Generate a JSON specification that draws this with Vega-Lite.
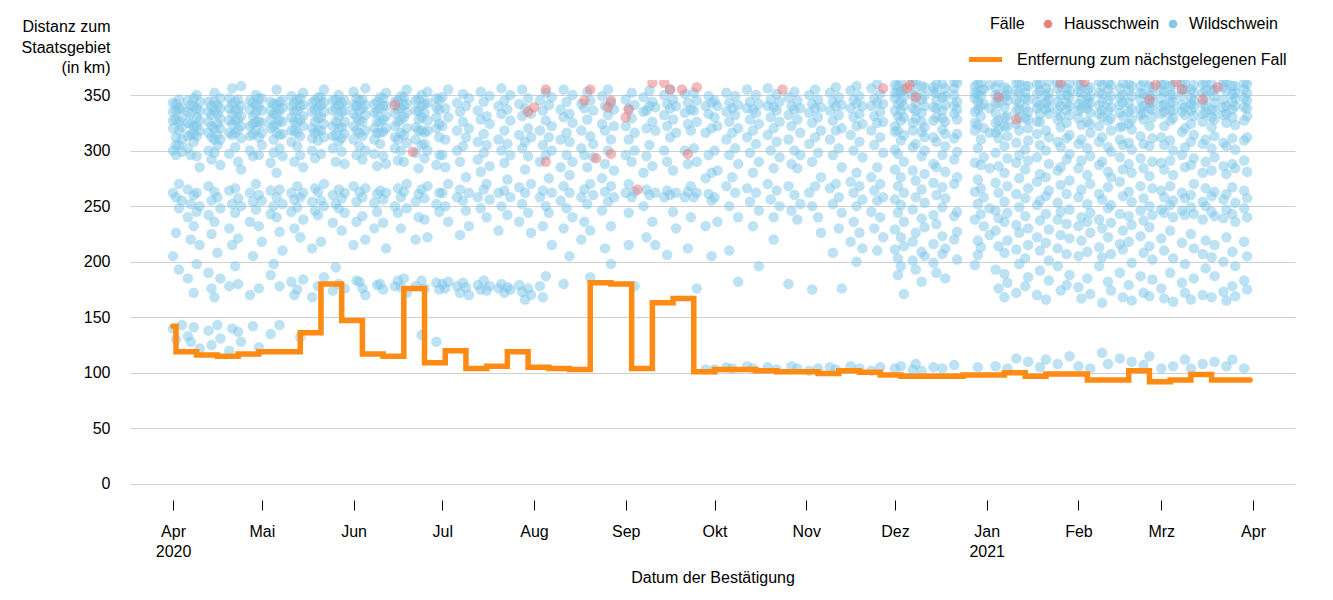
{
"$schema":"https://vega.github.io/schema/vega-lite/v6.json",
"width":1165,"height":420,
"autosize":{"type":"none"},
"padding":{"left":130,"top":80,"right":38,"bottom":100},
"background":"white",
"config":{"font":"Liberation Sans","view":{"stroke":null},
"axis":{"labelFontSize":16,"titleFontSize":16,"labelColor":"#000","titleColor":"#000","titleFontWeight":"normal"},
"legend":{"labelFontSize":16,"titleFontSize":16,"titleFontWeight":"normal","labelColor":"#000","titleColor":"#000"}},
"datasets":{
"A":[{"d":"2020-04-01","e":"2021-04-01"}],
"L":[{"d":"2020-04-01","v":142},{"d":"2020-04-02","v":119},{"d":"2020-04-09","v":116},{"d":"2020-04-16","v":115},{"d":"2020-04-23","v":117},{"d":"2020-04-30","v":119},{"d":"2020-05-07","v":119},{"d":"2020-05-14","v":136},{"d":"2020-05-21","v":180},{"d":"2020-05-28","v":147},{"d":"2020-06-04","v":117},{"d":"2020-06-11","v":115},{"d":"2020-06-18","v":176},{"d":"2020-06-25","v":109},{"d":"2020-07-02","v":120},{"d":"2020-07-09","v":104},{"d":"2020-07-16","v":106},{"d":"2020-07-23","v":119},{"d":"2020-07-30","v":105},{"d":"2020-08-06","v":104},{"d":"2020-08-13","v":103},{"d":"2020-08-20","v":181},{"d":"2020-08-27","v":180},{"d":"2020-09-03","v":104},{"d":"2020-09-10","v":163},{"d":"2020-09-17","v":167},{"d":"2020-09-24","v":101},{"d":"2020-10-01","v":103},{"d":"2020-10-08","v":103},{"d":"2020-10-15","v":102},{"d":"2020-10-22","v":101},{"d":"2020-10-29","v":101},{"d":"2020-11-05","v":99.5},{"d":"2020-11-12","v":102},{"d":"2020-11-19","v":100.5},{"d":"2020-11-26","v":98},{"d":"2020-12-03","v":97},{"d":"2020-12-10","v":97},{"d":"2020-12-17","v":97},{"d":"2020-12-24","v":98},{"d":"2020-12-31","v":98},{"d":"2021-01-07","v":100},{"d":"2021-01-14","v":97},{"d":"2021-01-21","v":99},{"d":"2021-01-28","v":99},{"d":"2021-02-04","v":93.5},{"d":"2021-02-11","v":93.5},{"d":"2021-02-18","v":102},{"d":"2021-02-25","v":92},{"d":"2021-03-04","v":93.5},{"d":"2021-03-11","v":98.5},{"d":"2021-03-18","v":93.5},{"d":"2021-03-25","v":93.5},{"d":"2021-03-31","v":93.5}],
"H":[{"d":"2020-06-15","v":341},{"d":"2020-06-21","v":299},{"d":"2020-07-30","v":335},{"d":"2020-08-01","v":339},{"d":"2020-08-05","v":355},{"d":"2020-08-05","v":290},{"d":"2020-08-18","v":345},{"d":"2020-08-20","v":355},{"d":"2020-08-22","v":293},{"d":"2020-08-26","v":339},{"d":"2020-08-27","v":345},{"d":"2020-08-27","v":297},{"d":"2020-09-01","v":330},{"d":"2020-09-02","v":337},{"d":"2020-09-05","v":265},{"d":"2020-09-10","v":361},{"d":"2020-09-14","v":361},{"d":"2020-09-16","v":355},{"d":"2020-09-20","v":355},{"d":"2020-09-22","v":297},{"d":"2020-09-25","v":357},{"d":"2020-10-24","v":355},{"d":"2020-11-27","v":356},{"d":"2020-12-05","v":356},{"d":"2020-12-06","v":359},{"d":"2020-12-08","v":348},{"d":"2021-01-05","v":348},{"d":"2021-01-11","v":328},{"d":"2021-01-26","v":361},{"d":"2021-02-03","v":362},{"d":"2021-02-25","v":346},{"d":"2021-02-27","v":359},{"d":"2021-03-06","v":362},{"d":"2021-03-08","v":355},{"d":"2021-03-15","v":346},{"d":"2021-03-20","v":357}],
"W":[
{"d":"2020-04-01","v":335},{"d":"2020-04-01","v":320},{"d":"2020-04-01","v":300},{"d":"2020-04-01","v":262},{"d":"2020-04-01","v":205},{"d":"2020-04-01","v":140},
{"d":"2020-04-02","v":342},{"d":"2020-04-02","v":328},{"d":"2020-04-02","v":312},{"d":"2020-04-02","v":296},{"d":"2020-04-02","v":258},{"d":"2020-04-02","v":226},{"d":"2020-04-02","v":130},
{"d":"2020-04-03","v":338},{"d":"2020-04-03","v":318},{"d":"2020-04-03","v":305},{"d":"2020-04-03","v":270},{"d":"2020-04-03","v":248},{"d":"2020-04-03","v":193},
{"d":"2020-04-04","v":330},{"d":"2020-04-04","v":310},{"d":"2020-04-04","v":299},{"d":"2020-04-04","v":255},{"d":"2020-04-04","v":143},
{"d":"2020-04-06","v":345},{"d":"2020-04-06","v":325},{"d":"2020-04-06","v":302},{"d":"2020-04-06","v":265},{"d":"2020-04-06","v":240},{"d":"2020-04-06","v":185},{"d":"2020-04-06","v":133},
{"d":"2020-04-07","v":333},{"d":"2020-04-07","v":315},{"d":"2020-04-07","v":296},{"d":"2020-04-07","v":252},{"d":"2020-04-07","v":220},{"d":"2020-04-07","v":128},
{"d":"2020-04-08","v":340},{"d":"2020-04-08","v":322},{"d":"2020-04-08","v":308},{"d":"2020-04-08","v":260},{"d":"2020-04-08","v":232},{"d":"2020-04-08","v":172},{"d":"2020-04-08","v":141},
{"d":"2020-04-09","v":350},{"d":"2020-04-09","v":330},{"d":"2020-04-09","v":313},{"d":"2020-04-09","v":295},{"d":"2020-04-09","v":262},{"d":"2020-04-09","v":245},{"d":"2020-04-09","v":198},
{"d":"2020-04-10","v":336},{"d":"2020-04-10","v":318},{"d":"2020-04-10","v":285},{"d":"2020-04-10","v":250},{"d":"2020-04-10","v":215},{"d":"2020-04-10","v":122},
{"d":"2020-04-13","v":344},{"d":"2020-04-13","v":326},{"d":"2020-04-13","v":300},{"d":"2020-04-13","v":268},{"d":"2020-04-13","v":242},{"d":"2020-04-13","v":190},{"d":"2020-04-13","v":138},
{"d":"2020-04-14","v":332},{"d":"2020-04-14","v":312},{"d":"2020-04-14","v":292},{"d":"2020-04-14","v":255},{"d":"2020-04-14","v":225},{"d":"2020-04-14","v":176},{"d":"2020-04-14","v":125},
{"d":"2020-04-15","v":352},{"d":"2020-04-15","v":336},{"d":"2020-04-15","v":320},{"d":"2020-04-15","v":298},{"d":"2020-04-15","v":263},{"d":"2020-04-15","v":236},{"d":"2020-04-15","v":168},
{"d":"2020-04-16","v":341},{"d":"2020-04-16","v":324},{"d":"2020-04-16","v":305},{"d":"2020-04-16","v":258},{"d":"2020-04-16","v":208},{"d":"2020-04-16","v":143},
{"d":"2020-04-17","v":347},{"d":"2020-04-17","v":329},{"d":"2020-04-17","v":310},{"d":"2020-04-17","v":287},{"d":"2020-04-17","v":248},{"d":"2020-04-17","v":185},{"d":"2020-04-17","v":131},
{"d":"2020-04-20","v":338},{"d":"2020-04-20","v":316},{"d":"2020-04-20","v":297},{"d":"2020-04-20","v":264},{"d":"2020-04-20","v":230},{"d":"2020-04-20","v":178},{"d":"2020-04-20","v":120},
{"d":"2020-04-21","v":356},{"d":"2020-04-21","v":333},{"d":"2020-04-21","v":314},{"d":"2020-04-21","v":252},{"d":"2020-04-21","v":215},{"d":"2020-04-21","v":140},
{"d":"2020-04-22","v":344},{"d":"2020-04-22","v":327},{"d":"2020-04-22","v":303},{"d":"2020-04-22","v":266},{"d":"2020-04-22","v":244},{"d":"2020-04-22","v":196},
{"d":"2020-04-23","v":336},{"d":"2020-04-23","v":319},{"d":"2020-04-23","v":290},{"d":"2020-04-23","v":257},{"d":"2020-04-23","v":221},{"d":"2020-04-23","v":180},{"d":"2020-04-23","v":137},
{"d":"2020-04-24","v":358},{"d":"2020-04-24","v":340},{"d":"2020-04-24","v":311},{"d":"2020-04-24","v":283},{"d":"2020-04-24","v":250},{"d":"2020-04-24","v":128},
{"d":"2020-04-27","v":345},{"d":"2020-04-27","v":322},{"d":"2020-04-27","v":300},{"d":"2020-04-27","v":262},{"d":"2020-04-27","v":236},{"d":"2020-04-27","v":170},
{"d":"2020-04-28","v":331},{"d":"2020-04-28","v":315},{"d":"2020-04-28","v":295},{"d":"2020-04-28","v":254},{"d":"2020-04-28","v":205},{"d":"2020-04-28","v":142},
{"d":"2020-04-29","v":350},{"d":"2020-04-29","v":334},{"d":"2020-04-29","v":318},{"d":"2020-04-29","v":270},{"d":"2020-04-29","v":247},
{"d":"2020-04-30","v":339},{"d":"2020-04-30","v":312},{"d":"2020-04-30","v":296},{"d":"2020-04-30","v":260},{"d":"2020-04-30","v":232},{"d":"2020-04-30","v":176},{"d":"2020-04-30","v":123},
{"d":"2020-05-01","v":347},{"d":"2020-05-01","v":325},{"d":"2020-05-01","v":305},{"d":"2020-05-01","v":255},{"d":"2020-05-01","v":218},
{"d":"2020-05-04","v":336},{"d":"2020-05-04","v":320},{"d":"2020-05-04","v":289},{"d":"2020-05-04","v":264},{"d":"2020-05-04","v":243},{"d":"2020-05-04","v":188},{"d":"2020-05-04","v":135},
{"d":"2020-05-05","v":342},{"d":"2020-05-05","v":310},{"d":"2020-05-05","v":298},{"d":"2020-05-05","v":250},{"d":"2020-05-05","v":198},
{"d":"2020-05-06","v":355},{"d":"2020-05-06","v":333},{"d":"2020-05-06","v":316},{"d":"2020-05-06","v":280},{"d":"2020-05-06","v":258},{"d":"2020-05-06","v":240},
{"d":"2020-05-07","v":344},{"d":"2020-05-07","v":327},{"d":"2020-05-07","v":302},{"d":"2020-05-07","v":265},{"d":"2020-05-07","v":227},{"d":"2020-05-07","v":178},{"d":"2020-05-07","v":143},
{"d":"2020-05-08","v":338},{"d":"2020-05-08","v":315},{"d":"2020-05-08","v":295},{"d":"2020-05-08","v":252},{"d":"2020-05-08","v":210},
{"d":"2020-05-11","v":349},{"d":"2020-05-11","v":330},{"d":"2020-05-11","v":308},{"d":"2020-05-11","v":262},{"d":"2020-05-11","v":245},{"d":"2020-05-11","v":182},
{"d":"2020-05-12","v":335},{"d":"2020-05-12","v":318},{"d":"2020-05-12","v":290},{"d":"2020-05-12","v":256},{"d":"2020-05-12","v":230},{"d":"2020-05-12","v":170},
{"d":"2020-05-13","v":346},{"d":"2020-05-13","v":325},{"d":"2020-05-13","v":304},{"d":"2020-05-13","v":268},{"d":"2020-05-13","v":249},{"d":"2020-05-13","v":175},
{"d":"2020-05-14","v":340},{"d":"2020-05-14","v":313},{"d":"2020-05-14","v":296},{"d":"2020-05-14","v":258},{"d":"2020-05-14","v":222},{"d":"2020-05-14","v":132},
{"d":"2020-05-15","v":352},{"d":"2020-05-15","v":331},{"d":"2020-05-15","v":285},{"d":"2020-05-15","v":262},{"d":"2020-05-15","v":238},{"d":"2020-05-15","v":184},
{"d":"2020-05-18","v":343},{"d":"2020-05-18","v":320},{"d":"2020-05-18","v":300},{"d":"2020-05-18","v":254},{"d":"2020-05-18","v":212},{"d":"2020-05-18","v":168},
{"d":"2020-05-19","v":337},{"d":"2020-05-19","v":316},{"d":"2020-05-19","v":293},{"d":"2020-05-19","v":266},{"d":"2020-05-19","v":246},
{"d":"2020-05-20","v":348},{"d":"2020-05-20","v":329},{"d":"2020-05-20","v":309},{"d":"2020-05-20","v":263},{"d":"2020-05-20","v":242},{"d":"2020-05-20","v":178},
{"d":"2020-05-21","v":341},{"d":"2020-05-21","v":318},{"d":"2020-05-21","v":297},{"d":"2020-05-21","v":255},{"d":"2020-05-21","v":218},
{"d":"2020-05-22","v":355},{"d":"2020-05-22","v":335},{"d":"2020-05-22","v":312},{"d":"2020-05-22","v":270},{"d":"2020-05-22","v":250},{"d":"2020-05-22","v":186},
{"d":"2020-05-25","v":345},{"d":"2020-05-25","v":322},{"d":"2020-05-25","v":302},{"d":"2020-05-25","v":260},{"d":"2020-05-25","v":235},{"d":"2020-05-25","v":174},
{"d":"2020-05-26","v":338},{"d":"2020-05-26","v":314},{"d":"2020-05-26","v":290},{"d":"2020-05-26","v":252},{"d":"2020-05-26","v":195},
{"d":"2020-05-27","v":350},{"d":"2020-05-27","v":330},{"d":"2020-05-27","v":308},{"d":"2020-05-27","v":265},{"d":"2020-05-27","v":248},{"d":"2020-05-27","v":180},
{"d":"2020-05-28","v":343},{"d":"2020-05-28","v":321},{"d":"2020-05-28","v":299},{"d":"2020-05-28","v":257},{"d":"2020-05-28","v":228},
{"d":"2020-05-29","v":336},{"d":"2020-05-29","v":315},{"d":"2020-05-29","v":288},{"d":"2020-05-29","v":262},{"d":"2020-05-29","v":244},{"d":"2020-05-29","v":176},
{"d":"2020-06-01","v":353},{"d":"2020-06-01","v":333},{"d":"2020-06-01","v":310},{"d":"2020-06-01","v":268},{"d":"2020-06-01","v":215},
{"d":"2020-06-02","v":340},{"d":"2020-06-02","v":318},{"d":"2020-06-02","v":296},{"d":"2020-06-02","v":254},{"d":"2020-06-02","v":236},{"d":"2020-06-02","v":183},
{"d":"2020-06-03","v":345},{"d":"2020-06-03","v":327},{"d":"2020-06-03","v":304},{"d":"2020-06-03","v":263},{"d":"2020-06-03","v":182},
{"d":"2020-06-04","v":338},{"d":"2020-06-04","v":313},{"d":"2020-06-04","v":292},{"d":"2020-06-04","v":258},{"d":"2020-06-04","v":241},{"d":"2020-06-04","v":176},
{"d":"2020-06-05","v":356},{"d":"2020-06-05","v":332},{"d":"2020-06-05","v":300},{"d":"2020-06-05","v":266},{"d":"2020-06-05","v":220},{"d":"2020-06-05","v":170},
{"d":"2020-06-08","v":342},{"d":"2020-06-08","v":320},{"d":"2020-06-08","v":297},{"d":"2020-06-08","v":253},{"d":"2020-06-08","v":230},
{"d":"2020-06-09","v":335},{"d":"2020-06-09","v":316},{"d":"2020-06-09","v":286},{"d":"2020-06-09","v":261},{"d":"2020-06-09","v":245},{"d":"2020-06-09","v":179},
{"d":"2020-06-10","v":348},{"d":"2020-06-10","v":326},{"d":"2020-06-10","v":306},{"d":"2020-06-10","v":264},{"d":"2020-06-10","v":180},
{"d":"2020-06-11","v":340},{"d":"2020-06-11","v":317},{"d":"2020-06-11","v":295},{"d":"2020-06-11","v":256},{"d":"2020-06-11","v":235},{"d":"2020-06-11","v":175},
{"d":"2020-06-12","v":352},{"d":"2020-06-12","v":331},{"d":"2020-06-12","v":288},{"d":"2020-06-12","v":262},{"d":"2020-06-12","v":212},
{"d":"2020-06-15","v":344},{"d":"2020-06-15","v":322},{"d":"2020-06-15","v":302},{"d":"2020-06-15","v":250},{"d":"2020-06-15","v":178},
{"d":"2020-06-16","v":337},{"d":"2020-06-16","v":310},{"d":"2020-06-16","v":291},{"d":"2020-06-16","v":266},{"d":"2020-06-16","v":244},{"d":"2020-06-16","v":183},
{"d":"2020-06-17","v":349},{"d":"2020-06-17","v":328},{"d":"2020-06-17","v":300},{"d":"2020-06-17","v":258},{"d":"2020-06-17","v":230},{"d":"2020-06-17","v":177},
{"d":"2020-06-18","v":341},{"d":"2020-06-18","v":314},{"d":"2020-06-18","v":290},{"d":"2020-06-18","v":263},{"d":"2020-06-18","v":185},
{"d":"2020-06-19","v":355},{"d":"2020-06-19","v":334},{"d":"2020-06-19","v":307},{"d":"2020-06-19","v":270},{"d":"2020-06-19","v":248},{"d":"2020-06-19","v":172},
{"d":"2020-06-22","v":345},{"d":"2020-06-22","v":321},{"d":"2020-06-22","v":298},{"d":"2020-06-22","v":254},{"d":"2020-06-22","v":220},{"d":"2020-06-22","v":178},
{"d":"2020-06-23","v":336},{"d":"2020-06-23","v":318},{"d":"2020-06-23","v":284},{"d":"2020-06-23","v":261},{"d":"2020-06-23","v":240},
{"d":"2020-06-24","v":350},{"d":"2020-06-24","v":330},{"d":"2020-06-24","v":305},{"d":"2020-06-24","v":265},{"d":"2020-06-24","v":183},{"d":"2020-06-24","v":134},
{"d":"2020-06-25","v":342},{"d":"2020-06-25","v":316},{"d":"2020-06-25","v":293},{"d":"2020-06-25","v":257},{"d":"2020-06-25","v":238},{"d":"2020-06-25","v":176},
{"d":"2020-06-26","v":353},{"d":"2020-06-26","v":327},{"d":"2020-06-26","v":300},{"d":"2020-06-26","v":268},{"d":"2020-06-26","v":222},
{"d":"2020-06-29","v":339},{"d":"2020-06-29","v":320},{"d":"2020-06-29","v":287},{"d":"2020-06-29","v":252},{"d":"2020-06-29","v":181},{"d":"2020-06-29","v":128},
{"d":"2020-06-30","v":346},{"d":"2020-06-30","v":312},{"d":"2020-06-30","v":296},{"d":"2020-06-30","v":262},{"d":"2020-06-30","v":245},{"d":"2020-06-30","v":175},
{"d":"2020-07-01","v":348},{"d":"2020-07-01","v":322},{"d":"2020-07-01","v":296},{"d":"2020-07-01","v":262},{"d":"2020-07-01","v":180},
{"d":"2020-07-02","v":338},{"d":"2020-07-02","v":310},{"d":"2020-07-02","v":285},{"d":"2020-07-02","v":250},{"d":"2020-07-02","v":176},
{"d":"2020-07-03","v":355},{"d":"2020-07-03","v":330},{"d":"2020-07-03","v":270},{"d":"2020-07-03","v":236},{"d":"2020-07-03","v":182},
{"d":"2020-07-06","v":343},{"d":"2020-07-06","v":318},{"d":"2020-07-06","v":300},{"d":"2020-07-06","v":258},{"d":"2020-07-06","v":178},
{"d":"2020-07-07","v":335},{"d":"2020-07-07","v":290},{"d":"2020-07-07","v":265},{"d":"2020-07-07","v":224},{"d":"2020-07-07","v":172},
{"d":"2020-07-08","v":351},{"d":"2020-07-08","v":326},{"d":"2020-07-08","v":304},{"d":"2020-07-08","v":255},{"d":"2020-07-08","v":181},
{"d":"2020-07-09","v":340},{"d":"2020-07-09","v":312},{"d":"2020-07-09","v":276},{"d":"2020-07-09","v":246},{"d":"2020-07-09","v":177},
{"d":"2020-07-10","v":347},{"d":"2020-07-10","v":320},{"d":"2020-07-10","v":262},{"d":"2020-07-10","v":232},{"d":"2020-07-10","v":170},
{"d":"2020-07-13","v":336},{"d":"2020-07-13","v":308},{"d":"2020-07-13","v":292},{"d":"2020-07-13","v":258},{"d":"2020-07-13","v":179},
{"d":"2020-07-14","v":353},{"d":"2020-07-14","v":328},{"d":"2020-07-14","v":281},{"d":"2020-07-14","v":248},{"d":"2020-07-14","v":175},
{"d":"2020-07-15","v":344},{"d":"2020-07-15","v":315},{"d":"2020-07-15","v":298},{"d":"2020-07-15","v":265},{"d":"2020-07-15","v":183},
{"d":"2020-07-16","v":331},{"d":"2020-07-16","v":305},{"d":"2020-07-16","v":270},{"d":"2020-07-16","v":240},{"d":"2020-07-16","v":174},
{"d":"2020-07-17","v":349},{"d":"2020-07-17","v":324},{"d":"2020-07-17","v":286},{"d":"2020-07-17","v":256},{"d":"2020-07-17","v":178},
{"d":"2020-07-20","v":340},{"d":"2020-07-20","v":310},{"d":"2020-07-20","v":262},{"d":"2020-07-20","v":228},{"d":"2020-07-20","v":176},
{"d":"2020-07-21","v":356},{"d":"2020-07-21","v":333},{"d":"2020-07-21","v":300},{"d":"2020-07-21","v":250},{"d":"2020-07-21","v":180},
{"d":"2020-07-22","v":345},{"d":"2020-07-22","v":318},{"d":"2020-07-22","v":289},{"d":"2020-07-22","v":264},{"d":"2020-07-22","v":172},
{"d":"2020-07-23","v":337},{"d":"2020-07-23","v":306},{"d":"2020-07-23","v":274},{"d":"2020-07-23","v":242},{"d":"2020-07-23","v":177},
{"d":"2020-07-24","v":350},{"d":"2020-07-24","v":327},{"d":"2020-07-24","v":296},{"d":"2020-07-24","v":258},{"d":"2020-07-24","v":175},
{"d":"2020-07-27","v":342},{"d":"2020-07-27","v":314},{"d":"2020-07-27","v":267},{"d":"2020-07-27","v":236},{"d":"2020-07-27","v":179},
{"d":"2020-07-28","v":355},{"d":"2020-07-28","v":331},{"d":"2020-07-28","v":302},{"d":"2020-07-28","v":252},{"d":"2020-07-28","v":173},
{"d":"2020-07-29","v":338},{"d":"2020-07-29","v":308},{"d":"2020-07-29","v":283},{"d":"2020-07-29","v":262},{"d":"2020-07-29","v":166},
{"d":"2020-07-30","v":347},{"d":"2020-07-30","v":320},{"d":"2020-07-30","v":295},{"d":"2020-07-30","v":244},{"d":"2020-07-30","v":176},
{"d":"2020-07-31","v":333},{"d":"2020-07-31","v":312},{"d":"2020-07-31","v":270},{"d":"2020-07-31","v":226},{"d":"2020-07-31","v":170},
{"d":"2020-08-03","v":345},{"d":"2020-08-03","v":318},{"d":"2020-08-03","v":290},{"d":"2020-08-03","v":258},{"d":"2020-08-03","v":178},
{"d":"2020-08-04","v":336},{"d":"2020-08-04","v":305},{"d":"2020-08-04","v":264},{"d":"2020-08-04","v":232},{"d":"2020-08-04","v":168},
{"d":"2020-08-05","v":352},{"d":"2020-08-05","v":327},{"d":"2020-08-05","v":296},{"d":"2020-08-05","v":250},{"d":"2020-08-05","v":187},
{"d":"2020-08-06","v":341},{"d":"2020-08-06","v":312},{"d":"2020-08-06","v":275},{"d":"2020-08-06","v":244},
{"d":"2020-08-07","v":348},{"d":"2020-08-07","v":322},{"d":"2020-08-07","v":300},{"d":"2020-08-07","v":262},{"d":"2020-08-07","v":215},
{"d":"2020-08-10","v":337},{"d":"2020-08-10","v":310},{"d":"2020-08-10","v":285},{"d":"2020-08-10","v":255},
{"d":"2020-08-11","v":355},{"d":"2020-08-11","v":330},{"d":"2020-08-11","v":268},{"d":"2020-08-11","v":230},{"d":"2020-08-11","v":180},
{"d":"2020-08-12","v":344},{"d":"2020-08-12","v":316},{"d":"2020-08-12","v":296},{"d":"2020-08-12","v":248},
{"d":"2020-08-13","v":333},{"d":"2020-08-13","v":308},{"d":"2020-08-13","v":278},{"d":"2020-08-13","v":262},{"d":"2020-08-13","v":205},
{"d":"2020-08-14","v":350},{"d":"2020-08-14","v":325},{"d":"2020-08-14","v":290},{"d":"2020-08-14","v":240},
{"d":"2020-08-17","v":342},{"d":"2020-08-17","v":318},{"d":"2020-08-17","v":302},{"d":"2020-08-17","v":258},{"d":"2020-08-17","v":220},
{"d":"2020-08-18","v":338},{"d":"2020-08-18","v":296},{"d":"2020-08-18","v":265},{"d":"2020-08-18","v":236},
{"d":"2020-08-19","v":353},{"d":"2020-08-19","v":328},{"d":"2020-08-19","v":285},{"d":"2020-08-19","v":252},
{"d":"2020-08-20","v":345},{"d":"2020-08-20","v":313},{"d":"2020-08-20","v":270},{"d":"2020-08-20","v":228},{"d":"2020-08-20","v":186},
{"d":"2020-08-21","v":336},{"d":"2020-08-21","v":306},{"d":"2020-08-21","v":294},{"d":"2020-08-21","v":260},
{"d":"2020-08-24","v":349},{"d":"2020-08-24","v":324},{"d":"2020-08-24","v":275},{"d":"2020-08-24","v":246},
{"d":"2020-08-25","v":340},{"d":"2020-08-25","v":318},{"d":"2020-08-25","v":288},{"d":"2020-08-25","v":263},{"d":"2020-08-25","v":212},
{"d":"2020-08-26","v":355},{"d":"2020-08-26","v":332},{"d":"2020-08-26","v":300},{"d":"2020-08-26","v":254},
{"d":"2020-08-27","v":343},{"d":"2020-08-27","v":310},{"d":"2020-08-27","v":268},{"d":"2020-08-27","v":232},{"d":"2020-08-27","v":198},
{"d":"2020-08-28","v":337},{"d":"2020-08-28","v":322},{"d":"2020-08-28","v":282},{"d":"2020-08-28","v":258},
{"d":"2020-09-01","v":346},{"d":"2020-09-01","v":322},{"d":"2020-09-01","v":296},{"d":"2020-09-01","v":262},
{"d":"2020-09-02","v":338},{"d":"2020-09-02","v":310},{"d":"2020-09-02","v":270},{"d":"2020-09-02","v":244},{"d":"2020-09-02","v":215},
{"d":"2020-09-03","v":352},{"d":"2020-09-03","v":329},{"d":"2020-09-03","v":290},{"d":"2020-09-03","v":258},
{"d":"2020-09-04","v":341},{"d":"2020-09-04","v":316},{"d":"2020-09-04","v":300},{"d":"2020-09-04","v":263},{"d":"2020-09-04","v":178},
{"d":"2020-09-07","v":348},{"d":"2020-09-07","v":335},{"d":"2020-09-07","v":280},{"d":"2020-09-07","v":250},
{"d":"2020-09-08","v":336},{"d":"2020-09-08","v":320},{"d":"2020-09-08","v":295},{"d":"2020-09-08","v":265},{"d":"2020-09-08","v":222},
{"d":"2020-09-09","v":354},{"d":"2020-09-09","v":340},{"d":"2020-09-09","v":305},{"d":"2020-09-09","v":260},
{"d":"2020-09-10","v":344},{"d":"2020-09-10","v":326},{"d":"2020-09-10","v":286},{"d":"2020-09-10","v":236},
{"d":"2020-09-11","v":339},{"d":"2020-09-11","v":318},{"d":"2020-09-11","v":262},{"d":"2020-09-11","v":215},
{"d":"2020-09-14","v":350},{"d":"2020-09-14","v":332},{"d":"2020-09-14","v":300},{"d":"2020-09-14","v":258},
{"d":"2020-09-15","v":342},{"d":"2020-09-15","v":322},{"d":"2020-09-15","v":290},{"d":"2020-09-15","v":264},{"d":"2020-09-15","v":206},
{"d":"2020-09-16","v":355},{"d":"2020-09-16","v":338},{"d":"2020-09-16","v":312},{"d":"2020-09-16","v":260},
{"d":"2020-09-17","v":346},{"d":"2020-09-17","v":328},{"d":"2020-09-17","v":282},{"d":"2020-09-17","v":245},
{"d":"2020-09-18","v":340},{"d":"2020-09-18","v":316},{"d":"2020-09-18","v":262},{"d":"2020-09-18","v":230},
{"d":"2020-09-21","v":351},{"d":"2020-09-21","v":334},{"d":"2020-09-21","v":300},{"d":"2020-09-21","v":258},
{"d":"2020-09-22","v":343},{"d":"2020-09-22","v":324},{"d":"2020-09-22","v":288},{"d":"2020-09-22","v":263},{"d":"2020-09-22","v":212},
{"d":"2020-09-23","v":337},{"d":"2020-09-23","v":318},{"d":"2020-09-23","v":268},{"d":"2020-09-23","v":240},
{"d":"2020-09-24","v":352},{"d":"2020-09-24","v":336},{"d":"2020-09-24","v":302},{"d":"2020-09-24","v":258},
{"d":"2020-09-25","v":345},{"d":"2020-09-25","v":326},{"d":"2020-09-25","v":290},{"d":"2020-09-25","v":262},{"d":"2020-09-25","v":176},
{"d":"2020-09-28","v":340},{"d":"2020-09-28","v":316},{"d":"2020-09-28","v":275},{"d":"2020-09-28","v":232},{"d":"2020-09-28","v":103},
{"d":"2020-09-29","v":349},{"d":"2020-09-29","v":333},{"d":"2020-09-29","v":296},{"d":"2020-09-29","v":261},
{"d":"2020-09-30","v":343},{"d":"2020-09-30","v":320},{"d":"2020-09-30","v":280},{"d":"2020-09-30","v":255},{"d":"2020-09-30","v":205},
{"d":"2020-10-01","v":345},{"d":"2020-10-01","v":330},{"d":"2020-10-01","v":300},{"d":"2020-10-01","v":258},{"d":"2020-10-01","v":103},
{"d":"2020-10-02","v":340},{"d":"2020-10-02","v":322},{"d":"2020-10-02","v":282},{"d":"2020-10-02","v":236},
{"d":"2020-10-05","v":352},{"d":"2020-10-05","v":335},{"d":"2020-10-05","v":310},{"d":"2020-10-05","v":268},{"d":"2020-10-05","v":105},
{"d":"2020-10-06","v":343},{"d":"2020-10-06","v":326},{"d":"2020-10-06","v":296},{"d":"2020-10-06","v":250},{"d":"2020-10-06","v":210},
{"d":"2020-10-07","v":338},{"d":"2020-10-07","v":316},{"d":"2020-10-07","v":276},{"d":"2020-10-07","v":104},
{"d":"2020-10-08","v":349},{"d":"2020-10-08","v":332},{"d":"2020-10-08","v":302},{"d":"2020-10-08","v":262},
{"d":"2020-10-09","v":341},{"d":"2020-10-09","v":320},{"d":"2020-10-09","v":288},{"d":"2020-10-09","v":240},{"d":"2020-10-09","v":182},
{"d":"2020-10-12","v":355},{"d":"2020-10-12","v":338},{"d":"2020-10-12","v":312},{"d":"2020-10-12","v":266},{"d":"2020-10-12","v":106},
{"d":"2020-10-13","v":344},{"d":"2020-10-13","v":328},{"d":"2020-10-13","v":298},{"d":"2020-10-13","v":254},
{"d":"2020-10-14","v":337},{"d":"2020-10-14","v":318},{"d":"2020-10-14","v":280},{"d":"2020-10-14","v":232},{"d":"2020-10-14","v":104},
{"d":"2020-10-15","v":350},{"d":"2020-10-15","v":334},{"d":"2020-10-15","v":306},{"d":"2020-10-15","v":262},
{"d":"2020-10-16","v":342},{"d":"2020-10-16","v":324},{"d":"2020-10-16","v":290},{"d":"2020-10-16","v":246},{"d":"2020-10-16","v":196},
{"d":"2020-10-19","v":356},{"d":"2020-10-19","v":340},{"d":"2020-10-19","v":314},{"d":"2020-10-19","v":270},{"d":"2020-10-19","v":105},
{"d":"2020-10-20","v":346},{"d":"2020-10-20","v":330},{"d":"2020-10-20","v":300},{"d":"2020-10-20","v":256},
{"d":"2020-10-21","v":339},{"d":"2020-10-21","v":320},{"d":"2020-10-21","v":284},{"d":"2020-10-21","v":240},{"d":"2020-10-21","v":220},
{"d":"2020-10-22","v":351},{"d":"2020-10-22","v":336},{"d":"2020-10-22","v":308},{"d":"2020-10-22","v":264},{"d":"2020-10-22","v":103},
{"d":"2020-10-23","v":344},{"d":"2020-10-23","v":326},{"d":"2020-10-23","v":294},{"d":"2020-10-23","v":250},
{"d":"2020-10-26","v":348},{"d":"2020-10-26","v":332},{"d":"2020-10-26","v":310},{"d":"2020-10-26","v":268},{"d":"2020-10-26","v":180},
{"d":"2020-10-27","v":340},{"d":"2020-10-27","v":322},{"d":"2020-10-27","v":288},{"d":"2020-10-27","v":246},{"d":"2020-10-27","v":106},
{"d":"2020-10-28","v":353},{"d":"2020-10-28","v":337},{"d":"2020-10-28","v":300},{"d":"2020-10-28","v":260},
{"d":"2020-10-29","v":345},{"d":"2020-10-29","v":328},{"d":"2020-10-29","v":284},{"d":"2020-10-29","v":238},{"d":"2020-10-29","v":104},
{"d":"2020-10-30","v":338},{"d":"2020-10-30","v":316},{"d":"2020-10-30","v":296},{"d":"2020-10-30","v":252},
{"d":"2020-11-02","v":350},{"d":"2020-11-02","v":334},{"d":"2020-11-02","v":306},{"d":"2020-11-02","v":262},{"d":"2020-11-02","v":102},
{"d":"2020-11-03","v":342},{"d":"2020-11-03","v":325},{"d":"2020-11-03","v":290},{"d":"2020-11-03","v":250},{"d":"2020-11-03","v":175},
{"d":"2020-11-04","v":355},{"d":"2020-11-04","v":338},{"d":"2020-11-04","v":312},{"d":"2020-11-04","v":268},
{"d":"2020-11-05","v":346},{"d":"2020-11-05","v":330},{"d":"2020-11-05","v":298},{"d":"2020-11-05","v":240},{"d":"2020-11-05","v":104},
{"d":"2020-11-06","v":339},{"d":"2020-11-06","v":318},{"d":"2020-11-06","v":276},{"d":"2020-11-06","v":226},
{"d":"2020-11-09","v":352},{"d":"2020-11-09","v":336},{"d":"2020-11-09","v":310},{"d":"2020-11-09","v":266},{"d":"2020-11-09","v":105},
{"d":"2020-11-10","v":344},{"d":"2020-11-10","v":327},{"d":"2020-11-10","v":296},{"d":"2020-11-10","v":252},{"d":"2020-11-10","v":208},
{"d":"2020-11-11","v":357},{"d":"2020-11-11","v":340},{"d":"2020-11-11","v":318},{"d":"2020-11-11","v":270},{"d":"2020-11-11","v":103},
{"d":"2020-11-12","v":348},{"d":"2020-11-12","v":332},{"d":"2020-11-12","v":302},{"d":"2020-11-12","v":258},{"d":"2020-11-12","v":230},
{"d":"2020-11-13","v":341},{"d":"2020-11-13","v":320},{"d":"2020-11-13","v":285},{"d":"2020-11-13","v":244},{"d":"2020-11-13","v":176},
{"d":"2020-11-16","v":354},{"d":"2020-11-16","v":338},{"d":"2020-11-16","v":314},{"d":"2020-11-16","v":272},{"d":"2020-11-16","v":218},{"d":"2020-11-16","v":106},
{"d":"2020-11-17","v":346},{"d":"2020-11-17","v":330},{"d":"2020-11-17","v":300},{"d":"2020-11-17","v":262},{"d":"2020-11-17","v":236},
{"d":"2020-11-18","v":358},{"d":"2020-11-18","v":342},{"d":"2020-11-18","v":322},{"d":"2020-11-18","v":280},{"d":"2020-11-18","v":250},{"d":"2020-11-18","v":200},
{"d":"2020-11-19","v":349},{"d":"2020-11-19","v":333},{"d":"2020-11-19","v":308},{"d":"2020-11-19","v":268},{"d":"2020-11-19","v":226},{"d":"2020-11-19","v":104},
{"d":"2020-11-20","v":340},{"d":"2020-11-20","v":324},{"d":"2020-11-20","v":294},{"d":"2020-11-20","v":256},{"d":"2020-11-20","v":212},
{"d":"2020-11-23","v":356},{"d":"2020-11-23","v":340},{"d":"2020-11-23","v":318},{"d":"2020-11-23","v":276},{"d":"2020-11-23","v":245},{"d":"2020-11-23","v":102},
{"d":"2020-11-24","v":347},{"d":"2020-11-24","v":331},{"d":"2020-11-24","v":305},{"d":"2020-11-24","v":264},{"d":"2020-11-24","v":230},
{"d":"2020-11-25","v":360},{"d":"2020-11-25","v":343},{"d":"2020-11-25","v":325},{"d":"2020-11-25","v":285},{"d":"2020-11-25","v":255},{"d":"2020-11-25","v":210},
{"d":"2020-11-26","v":351},{"d":"2020-11-26","v":335},{"d":"2020-11-26","v":312},{"d":"2020-11-26","v":270},{"d":"2020-11-26","v":240},{"d":"2020-11-26","v":105},
{"d":"2020-11-27","v":342},{"d":"2020-11-27","v":326},{"d":"2020-11-27","v":298},{"d":"2020-11-27","v":258},{"d":"2020-11-27","v":222},
{"d":"2020-12-01","v":359},{"d":"2020-12-01","v":347},{"d":"2020-12-01","v":336},{"d":"2020-12-01","v":322},{"d":"2020-12-01","v":301},{"d":"2020-12-01","v":283},{"d":"2020-12-01","v":256},{"d":"2020-12-01","v":229},{"d":"2020-12-01","v":211},{"d":"2020-12-01","v":104},
{"d":"2020-12-02","v":352},{"d":"2020-12-02","v":331},{"d":"2020-12-02","v":318},{"d":"2020-12-02","v":297},{"d":"2020-12-02","v":268},{"d":"2020-12-02","v":244},{"d":"2020-12-02","v":203},{"d":"2020-12-02","v":188},
{"d":"2020-12-03","v":362},{"d":"2020-12-03","v":344},{"d":"2020-12-03","v":327},{"d":"2020-12-03","v":309},{"d":"2020-12-03","v":276},{"d":"2020-12-03","v":251},{"d":"2020-12-03","v":222},{"d":"2020-12-03","v":196},{"d":"2020-12-03","v":106},
{"d":"2020-12-04","v":355},{"d":"2020-12-04","v":340},{"d":"2020-12-04","v":314},{"d":"2020-12-04","v":290},{"d":"2020-12-04","v":262},{"d":"2020-12-04","v":236},{"d":"2020-12-04","v":214},{"d":"2020-12-04","v":171},
{"d":"2020-12-07","v":350},{"d":"2020-12-07","v":338},{"d":"2020-12-07","v":325},{"d":"2020-12-07","v":303},{"d":"2020-12-07","v":282},{"d":"2020-12-07","v":247},{"d":"2020-12-07","v":218},{"d":"2020-12-07","v":201},{"d":"2020-12-07","v":103},
{"d":"2020-12-08","v":361},{"d":"2020-12-08","v":343},{"d":"2020-12-08","v":329},{"d":"2020-12-08","v":306},{"d":"2020-12-08","v":273},{"d":"2020-12-08","v":258},{"d":"2020-12-08","v":226},{"d":"2020-12-08","v":193},{"d":"2020-12-08","v":108},
{"d":"2020-12-10","v":346},{"d":"2020-12-10","v":334},{"d":"2020-12-10","v":317},{"d":"2020-12-10","v":295},{"d":"2020-12-10","v":265},{"d":"2020-12-10","v":239},{"d":"2020-12-10","v":209},{"d":"2020-12-10","v":182},{"d":"2020-12-10","v":102},
{"d":"2020-12-11","v":357},{"d":"2020-12-11","v":349},{"d":"2020-12-11","v":321},{"d":"2020-12-11","v":300},{"d":"2020-12-11","v":279},{"d":"2020-12-11","v":253},{"d":"2020-12-11","v":231},{"d":"2020-12-11","v":205},
{"d":"2020-12-14","v":353},{"d":"2020-12-14","v":339},{"d":"2020-12-14","v":312},{"d":"2020-12-14","v":288},{"d":"2020-12-14","v":271},{"d":"2020-12-14","v":242},{"d":"2020-12-14","v":216},{"d":"2020-12-14","v":199},{"d":"2020-12-14","v":105},
{"d":"2020-12-15","v":360},{"d":"2020-12-15","v":345},{"d":"2020-12-15","v":330},{"d":"2020-12-15","v":308},{"d":"2020-12-15","v":285},{"d":"2020-12-15","v":260},{"d":"2020-12-15","v":234},{"d":"2020-12-15","v":190},
{"d":"2020-12-17","v":348},{"d":"2020-12-17","v":336},{"d":"2020-12-17","v":319},{"d":"2020-12-17","v":296},{"d":"2020-12-17","v":267},{"d":"2020-12-17","v":249},{"d":"2020-12-17","v":223},{"d":"2020-12-17","v":207},{"d":"2020-12-17","v":104},
{"d":"2020-12-18","v":356},{"d":"2020-12-18","v":341},{"d":"2020-12-18","v":326},{"d":"2020-12-18","v":304},{"d":"2020-12-18","v":281},{"d":"2020-12-18","v":257},{"d":"2020-12-18","v":212},{"d":"2020-12-18","v":185},
{"d":"2020-12-21","v":362},{"d":"2020-12-21","v":350},{"d":"2020-12-21","v":333},{"d":"2020-12-21","v":311},{"d":"2020-12-21","v":292},{"d":"2020-12-21","v":270},{"d":"2020-12-21","v":241},{"d":"2020-12-21","v":220},{"d":"2020-12-21","v":107},
{"d":"2020-12-22","v":344},{"d":"2020-12-22","v":328},{"d":"2020-12-22","v":315},{"d":"2020-12-22","v":299},{"d":"2020-12-22","v":276},{"d":"2020-12-22","v":245},{"d":"2020-12-22","v":227},{"d":"2020-12-22","v":202},
{"d":"2020-12-28","v":358},{"d":"2020-12-28","v":347},{"d":"2020-12-28","v":335},{"d":"2020-12-28","v":318},{"d":"2020-12-28","v":289},{"d":"2020-12-28","v":263},{"d":"2020-12-28","v":238},{"d":"2020-12-28","v":197},
{"d":"2020-12-29","v":351},{"d":"2020-12-29","v":337},{"d":"2020-12-29","v":323},{"d":"2020-12-29","v":302},{"d":"2020-12-29","v":274},{"d":"2020-12-29","v":252},{"d":"2020-12-29","v":219},{"d":"2020-12-29","v":206},{"d":"2020-12-29","v":105},
{"d":"2020-12-30","v":361},{"d":"2020-12-30","v":349},{"d":"2020-12-30","v":331},{"d":"2020-12-30","v":310},{"d":"2020-12-30","v":287},{"d":"2020-12-30","v":266},{"d":"2020-12-30","v":243},{"d":"2020-12-30","v":213},
{"d":"2020-12-31","v":355},{"d":"2020-12-31","v":342},{"d":"2020-12-31","v":320},{"d":"2020-12-31","v":294},{"d":"2020-12-31","v":258},{"d":"2020-12-31","v":232},
{"d":"2021-01-02","v":359},{"d":"2021-01-02","v":338},{"d":"2021-01-02","v":316},{"d":"2021-01-02","v":284},{"d":"2021-01-02","v":248},{"d":"2021-01-02","v":224},
{"d":"2021-01-04","v":357},{"d":"2021-01-04","v":343},{"d":"2021-01-04","v":334},{"d":"2021-01-04","v":316},{"d":"2021-01-04","v":298},{"d":"2021-01-04","v":271},{"d":"2021-01-04","v":246},{"d":"2021-01-04","v":228},{"d":"2021-01-04","v":193},{"d":"2021-01-04","v":106},
{"d":"2021-01-05","v":362},{"d":"2021-01-05","v":350},{"d":"2021-01-05","v":327},{"d":"2021-01-05","v":311},{"d":"2021-01-05","v":286},{"d":"2021-01-05","v":262},{"d":"2021-01-05","v":239},{"d":"2021-01-05","v":214},{"d":"2021-01-05","v":176},
{"d":"2021-01-07","v":348},{"d":"2021-01-07","v":339},{"d":"2021-01-07","v":322},{"d":"2021-01-07","v":304},{"d":"2021-01-07","v":280},{"d":"2021-01-07","v":254},{"d":"2021-01-07","v":236},{"d":"2021-01-07","v":208},{"d":"2021-01-07","v":189},{"d":"2021-01-07","v":168},
{"d":"2021-01-08","v":355},{"d":"2021-01-08","v":345},{"d":"2021-01-08","v":331},{"d":"2021-01-08","v":313},{"d":"2021-01-08","v":293},{"d":"2021-01-08","v":268},{"d":"2021-01-08","v":244},{"d":"2021-01-08","v":219},{"d":"2021-01-08","v":181},{"d":"2021-01-08","v":104},
{"d":"2021-01-11","v":361},{"d":"2021-01-11","v":336},{"d":"2021-01-11","v":324},{"d":"2021-01-11","v":307},{"d":"2021-01-11","v":289},{"d":"2021-01-11","v":261},{"d":"2021-01-11","v":233},{"d":"2021-01-11","v":211},{"d":"2021-01-11","v":172},{"d":"2021-01-11","v":113},
{"d":"2021-01-12","v":352},{"d":"2021-01-12","v":343},{"d":"2021-01-12","v":330},{"d":"2021-01-12","v":318},{"d":"2021-01-12","v":296},{"d":"2021-01-12","v":275},{"d":"2021-01-12","v":249},{"d":"2021-01-12","v":226},{"d":"2021-01-12","v":198},
{"d":"2021-01-14","v":358},{"d":"2021-01-14","v":347},{"d":"2021-01-14","v":329},{"d":"2021-01-14","v":301},{"d":"2021-01-14","v":283},{"d":"2021-01-14","v":257},{"d":"2021-01-14","v":241},{"d":"2021-01-14","v":203},{"d":"2021-01-14","v":178},
{"d":"2021-01-15","v":346},{"d":"2021-01-15","v":335},{"d":"2021-01-15","v":320},{"d":"2021-01-15","v":309},{"d":"2021-01-15","v":291},{"d":"2021-01-15","v":266},{"d":"2021-01-15","v":230},{"d":"2021-01-15","v":215},{"d":"2021-01-15","v":186},{"d":"2021-01-15","v":110},
{"d":"2021-01-18","v":360},{"d":"2021-01-18","v":351},{"d":"2021-01-18","v":338},{"d":"2021-01-18","v":315},{"d":"2021-01-18","v":294},{"d":"2021-01-18","v":272},{"d":"2021-01-18","v":251},{"d":"2021-01-18","v":222},{"d":"2021-01-18","v":170},
{"d":"2021-01-19","v":354},{"d":"2021-01-19","v":341},{"d":"2021-01-19","v":326},{"d":"2021-01-19","v":305},{"d":"2021-01-19","v":279},{"d":"2021-01-19","v":255},{"d":"2021-01-19","v":237},{"d":"2021-01-19","v":210},{"d":"2021-01-19","v":192},{"d":"2021-01-19","v":105},
{"d":"2021-01-21","v":349},{"d":"2021-01-21","v":337},{"d":"2021-01-21","v":318},{"d":"2021-01-21","v":300},{"d":"2021-01-21","v":276},{"d":"2021-01-21","v":259},{"d":"2021-01-21","v":243},{"d":"2021-01-21","v":217},{"d":"2021-01-21","v":166},{"d":"2021-01-21","v":112},
{"d":"2021-01-22","v":362},{"d":"2021-01-22","v":346},{"d":"2021-01-22","v":333},{"d":"2021-01-22","v":312},{"d":"2021-01-22","v":288},{"d":"2021-01-22","v":264},{"d":"2021-01-22","v":229},{"d":"2021-01-22","v":201},{"d":"2021-01-22","v":183},
{"d":"2021-01-25","v":356},{"d":"2021-01-25","v":344},{"d":"2021-01-25","v":328},{"d":"2021-01-25","v":308},{"d":"2021-01-25","v":282},{"d":"2021-01-25","v":253},{"d":"2021-01-25","v":238},{"d":"2021-01-25","v":212},{"d":"2021-01-25","v":196},{"d":"2021-01-25","v":108},
{"d":"2021-01-26","v":359},{"d":"2021-01-26","v":340},{"d":"2021-01-26","v":321},{"d":"2021-01-26","v":303},{"d":"2021-01-26","v":285},{"d":"2021-01-26","v":269},{"d":"2021-01-26","v":245},{"d":"2021-01-26","v":224},{"d":"2021-01-26","v":174},
{"d":"2021-01-28","v":350},{"d":"2021-01-28","v":337},{"d":"2021-01-28","v":325},{"d":"2021-01-28","v":311},{"d":"2021-01-28","v":292},{"d":"2021-01-28","v":261},{"d":"2021-01-28","v":234},{"d":"2021-01-28","v":207},{"d":"2021-01-28","v":179},
{"d":"2021-01-29","v":361},{"d":"2021-01-29","v":348},{"d":"2021-01-29","v":332},{"d":"2021-01-29","v":314},{"d":"2021-01-29","v":297},{"d":"2021-01-29","v":273},{"d":"2021-01-29","v":247},{"d":"2021-01-29","v":221},{"d":"2021-01-29","v":188},{"d":"2021-01-29","v":115},
{"d":"2021-02-01","v":353},{"d":"2021-02-01","v":342},{"d":"2021-02-01","v":329},{"d":"2021-02-01","v":306},{"d":"2021-02-01","v":284},{"d":"2021-02-01","v":258},{"d":"2021-02-01","v":232},{"d":"2021-02-01","v":205},{"d":"2021-02-01","v":177},{"d":"2021-02-01","v":106},
{"d":"2021-02-02","v":360},{"d":"2021-02-02","v":346},{"d":"2021-02-02","v":323},{"d":"2021-02-02","v":310},{"d":"2021-02-02","v":291},{"d":"2021-02-02","v":265},{"d":"2021-02-02","v":240},{"d":"2021-02-02","v":219},{"d":"2021-02-02","v":167},
{"d":"2021-02-04","v":347},{"d":"2021-02-04","v":338},{"d":"2021-02-04","v":326},{"d":"2021-02-04","v":302},{"d":"2021-02-04","v":278},{"d":"2021-02-04","v":252},{"d":"2021-02-04","v":236},{"d":"2021-02-04","v":209},{"d":"2021-02-04","v":185},
{"d":"2021-02-05","v":357},{"d":"2021-02-05","v":349},{"d":"2021-02-05","v":334},{"d":"2021-02-05","v":316},{"d":"2021-02-05","v":295},{"d":"2021-02-05","v":270},{"d":"2021-02-05","v":244},{"d":"2021-02-05","v":226},{"d":"2021-02-05","v":171},{"d":"2021-02-05","v":104},
{"d":"2021-02-08","v":362},{"d":"2021-02-08","v":341},{"d":"2021-02-08","v":322},{"d":"2021-02-08","v":308},{"d":"2021-02-08","v":287},{"d":"2021-02-08","v":261},{"d":"2021-02-08","v":238},{"d":"2021-02-08","v":213},{"d":"2021-02-08","v":196},
{"d":"2021-02-09","v":351},{"d":"2021-02-09","v":336},{"d":"2021-02-09","v":330},{"d":"2021-02-09","v":312},{"d":"2021-02-09","v":290},{"d":"2021-02-09","v":256},{"d":"2021-02-09","v":230},{"d":"2021-02-09","v":204},{"d":"2021-02-09","v":163},{"d":"2021-02-09","v":118},
{"d":"2021-02-11","v":355},{"d":"2021-02-11","v":345},{"d":"2021-02-11","v":327},{"d":"2021-02-11","v":303},{"d":"2021-02-11","v":281},{"d":"2021-02-11","v":267},{"d":"2021-02-11","v":248},{"d":"2021-02-11","v":222},{"d":"2021-02-11","v":182},{"d":"2021-02-11","v":108},
{"d":"2021-02-12","v":359},{"d":"2021-02-12","v":339},{"d":"2021-02-12","v":318},{"d":"2021-02-12","v":299},{"d":"2021-02-12","v":276},{"d":"2021-02-12","v":251},{"d":"2021-02-12","v":235},{"d":"2021-02-12","v":207},{"d":"2021-02-12","v":174},
{"d":"2021-02-15","v":348},{"d":"2021-02-15","v":334},{"d":"2021-02-15","v":321},{"d":"2021-02-15","v":310},{"d":"2021-02-15","v":294},{"d":"2021-02-15","v":272},{"d":"2021-02-15","v":243},{"d":"2021-02-15","v":216},{"d":"2021-02-15","v":190},{"d":"2021-02-15","v":113},
{"d":"2021-02-16","v":361},{"d":"2021-02-16","v":350},{"d":"2021-02-16","v":331},{"d":"2021-02-16","v":305},{"d":"2021-02-16","v":283},{"d":"2021-02-16","v":259},{"d":"2021-02-16","v":228},{"d":"2021-02-16","v":211},{"d":"2021-02-16","v":168},
{"d":"2021-02-18","v":354},{"d":"2021-02-18","v":343},{"d":"2021-02-18","v":324},{"d":"2021-02-18","v":307},{"d":"2021-02-18","v":288},{"d":"2021-02-18","v":263},{"d":"2021-02-18","v":241},{"d":"2021-02-18","v":218},{"d":"2021-02-18","v":179},
{"d":"2021-02-19","v":358},{"d":"2021-02-19","v":337},{"d":"2021-02-19","v":319},{"d":"2021-02-19","v":301},{"d":"2021-02-19","v":280},{"d":"2021-02-19","v":254},{"d":"2021-02-19","v":233},{"d":"2021-02-19","v":199},{"d":"2021-02-19","v":165},{"d":"2021-02-19","v":110},
{"d":"2021-02-22","v":352},{"d":"2021-02-22","v":346},{"d":"2021-02-22","v":332},{"d":"2021-02-22","v":313},{"d":"2021-02-22","v":293},{"d":"2021-02-22","v":268},{"d":"2021-02-22","v":246},{"d":"2021-02-22","v":223},{"d":"2021-02-22","v":187},
{"d":"2021-02-23","v":362},{"d":"2021-02-23","v":340},{"d":"2021-02-23","v":328},{"d":"2021-02-23","v":306},{"d":"2021-02-23","v":284},{"d":"2021-02-23","v":257},{"d":"2021-02-23","v":237},{"d":"2021-02-23","v":208},{"d":"2021-02-23","v":172},{"d":"2021-02-23","v":107},
{"d":"2021-02-25","v":349},{"d":"2021-02-25","v":338},{"d":"2021-02-25","v":322},{"d":"2021-02-25","v":304},{"d":"2021-02-25","v":277},{"d":"2021-02-25","v":250},{"d":"2021-02-25","v":231},{"d":"2021-02-25","v":214},{"d":"2021-02-25","v":169},{"d":"2021-02-25","v":115},
{"d":"2021-02-26","v":357},{"d":"2021-02-26","v":344},{"d":"2021-02-26","v":330},{"d":"2021-02-26","v":311},{"d":"2021-02-26","v":290},{"d":"2021-02-26","v":266},{"d":"2021-02-26","v":242},{"d":"2021-02-26","v":202},{"d":"2021-02-26","v":184},
{"d":"2021-03-01","v":360},{"d":"2021-03-01","v":347},{"d":"2021-03-01","v":333},{"d":"2021-03-01","v":312},{"d":"2021-03-01","v":289},{"d":"2021-03-01","v":264},{"d":"2021-03-01","v":247},{"d":"2021-03-01","v":221},{"d":"2021-03-01","v":176},{"d":"2021-03-01","v":104},
{"d":"2021-03-02","v":353},{"d":"2021-03-02","v":341},{"d":"2021-03-02","v":322},{"d":"2021-03-02","v":305},{"d":"2021-03-02","v":283},{"d":"2021-03-02","v":258},{"d":"2021-03-02","v":244},{"d":"2021-03-02","v":210},{"d":"2021-03-02","v":167},
{"d":"2021-03-04","v":358},{"d":"2021-03-04","v":336},{"d":"2021-03-04","v":327},{"d":"2021-03-04","v":309},{"d":"2021-03-04","v":291},{"d":"2021-03-04","v":268},{"d":"2021-03-04","v":251},{"d":"2021-03-04","v":228},{"d":"2021-03-04","v":190},
{"d":"2021-03-05","v":350},{"d":"2021-03-05","v":344},{"d":"2021-03-05","v":329},{"d":"2021-03-05","v":300},{"d":"2021-03-05","v":278},{"d":"2021-03-05","v":255},{"d":"2021-03-05","v":240},{"d":"2021-03-05","v":203},{"d":"2021-03-05","v":164},{"d":"2021-03-05","v":106},
{"d":"2021-03-08","v":362},{"d":"2021-03-08","v":349},{"d":"2021-03-08","v":335},{"d":"2021-03-08","v":317},{"d":"2021-03-08","v":296},{"d":"2021-03-08","v":262},{"d":"2021-03-08","v":246},{"d":"2021-03-08","v":217},{"d":"2021-03-08","v":181},
{"d":"2021-03-09","v":355},{"d":"2021-03-09","v":339},{"d":"2021-03-09","v":320},{"d":"2021-03-09","v":303},{"d":"2021-03-09","v":285},{"d":"2021-03-09","v":257},{"d":"2021-03-09","v":242},{"d":"2021-03-09","v":198},{"d":"2021-03-09","v":172},{"d":"2021-03-09","v":112},
{"d":"2021-03-11","v":347},{"d":"2021-03-11","v":336},{"d":"2021-03-11","v":324},{"d":"2021-03-11","v":308},{"d":"2021-03-11","v":287},{"d":"2021-03-11","v":260},{"d":"2021-03-11","v":249},{"d":"2021-03-11","v":225},{"d":"2021-03-11","v":166},{"d":"2021-03-11","v":104},
{"d":"2021-03-12","v":359},{"d":"2021-03-12","v":345},{"d":"2021-03-12","v":331},{"d":"2021-03-12","v":314},{"d":"2021-03-12","v":293},{"d":"2021-03-12","v":270},{"d":"2021-03-12","v":243},{"d":"2021-03-12","v":212},{"d":"2021-03-12","v":185},
{"d":"2021-03-15","v":352},{"d":"2021-03-15","v":342},{"d":"2021-03-15","v":326},{"d":"2021-03-15","v":306},{"d":"2021-03-15","v":280},{"d":"2021-03-15","v":254},{"d":"2021-03-15","v":238},{"d":"2021-03-15","v":207},{"d":"2021-03-15","v":170},{"d":"2021-03-15","v":108},
{"d":"2021-03-16","v":361},{"d":"2021-03-16","v":348},{"d":"2021-03-16","v":334},{"d":"2021-03-16","v":310},{"d":"2021-03-16","v":290},{"d":"2021-03-16","v":266},{"d":"2021-03-16","v":250},{"d":"2021-03-16","v":219},{"d":"2021-03-16","v":194},
{"d":"2021-03-18","v":354},{"d":"2021-03-18","v":337},{"d":"2021-03-18","v":321},{"d":"2021-03-18","v":302},{"d":"2021-03-18","v":282},{"d":"2021-03-18","v":259},{"d":"2021-03-18","v":245},{"d":"2021-03-18","v":204},{"d":"2021-03-18","v":168},
{"d":"2021-03-19","v":349},{"d":"2021-03-19","v":343},{"d":"2021-03-19","v":328},{"d":"2021-03-19","v":313},{"d":"2021-03-19","v":294},{"d":"2021-03-19","v":263},{"d":"2021-03-19","v":241},{"d":"2021-03-19","v":215},{"d":"2021-03-19","v":187},{"d":"2021-03-19","v":110},
{"d":"2021-03-22","v":357},{"d":"2021-03-22","v":346},{"d":"2021-03-22","v":332},{"d":"2021-03-22","v":307},{"d":"2021-03-22","v":286},{"d":"2021-03-22","v":256},{"d":"2021-03-22","v":239},{"d":"2021-03-22","v":200},{"d":"2021-03-22","v":173},
{"d":"2021-03-23","v":362},{"d":"2021-03-23","v":340},{"d":"2021-03-23","v":325},{"d":"2021-03-23","v":304},{"d":"2021-03-23","v":279},{"d":"2021-03-23","v":261},{"d":"2021-03-23","v":247},{"d":"2021-03-23","v":222},{"d":"2021-03-23","v":165},{"d":"2021-03-23","v":106},
{"d":"2021-03-25","v":351},{"d":"2021-03-25","v":344},{"d":"2021-03-25","v":330},{"d":"2021-03-25","v":311},{"d":"2021-03-25","v":288},{"d":"2021-03-25","v":267},{"d":"2021-03-25","v":243},{"d":"2021-03-25","v":209},{"d":"2021-03-25","v":178},{"d":"2021-03-25","v":112},
{"d":"2021-03-26","v":358},{"d":"2021-03-26","v":347},{"d":"2021-03-26","v":323},{"d":"2021-03-26","v":301},{"d":"2021-03-26","v":284},{"d":"2021-03-26","v":253},{"d":"2021-03-26","v":236},{"d":"2021-03-26","v":196},{"d":"2021-03-26","v":169},
{"d":"2021-03-29","v":355},{"d":"2021-03-29","v":339},{"d":"2021-03-29","v":327},{"d":"2021-03-29","v":309},{"d":"2021-03-29","v":291},{"d":"2021-03-29","v":264},{"d":"2021-03-29","v":248},{"d":"2021-03-29","v":218},{"d":"2021-03-29","v":183},{"d":"2021-03-29","v":104},
{"d":"2021-03-30","v":360},{"d":"2021-03-30","v":345},{"d":"2021-03-30","v":331},{"d":"2021-03-30","v":312},{"d":"2021-03-30","v":281},{"d":"2021-03-30","v":257},{"d":"2021-03-30","v":240},{"d":"2021-03-30","v":205},{"d":"2021-03-30","v":175},
{"d":"2020-04-01","v":343},{"d":"2020-04-01","v":327},{"d":"2020-04-02","v":336},{"d":"2020-04-02","v":305},{"d":"2020-04-03","v":346},{"d":"2020-04-03","v":326},{"d":"2020-04-04","v":338},{"d":"2020-04-04","v":321},{"d":"2020-04-06","v":335},{"d":"2020-04-06","v":313},{"d":"2020-04-07","v":341},{"d":"2020-04-07","v":324},{"d":"2020-04-08","v":347},{"d":"2020-04-08","v":315},{"d":"2020-04-09","v":338},{"d":"2020-04-09","v":322},{"d":"2020-04-10","v":344},{"d":"2020-04-10","v":327},{"d":"2020-04-13","v":335},{"d":"2020-04-13","v":316},{"d":"2020-04-14","v":340},{"d":"2020-04-14","v":322},{"d":"2020-04-15","v":344},{"d":"2020-04-15","v":310},{"d":"2020-04-16","v":333},{"d":"2020-04-16","v":314},{"d":"2020-04-17","v":338},{"d":"2020-04-17","v":320},{"d":"2020-04-20","v":347},{"d":"2020-04-20","v":327},{"d":"2020-04-21","v":342},{"d":"2020-04-21","v":324},{"d":"2020-04-22","v":336},{"d":"2020-04-22","v":316},{"d":"2020-04-23","v":346},{"d":"2020-04-23","v":328},{"d":"2020-04-24","v":331},{"d":"2020-04-24","v":322},{"d":"2020-04-27","v":337},{"d":"2020-04-27","v":313},{"d":"2020-04-28","v":343},{"d":"2020-04-28","v":324},{"d":"2020-04-29","v":341},{"d":"2020-04-29","v":326},{"d":"2020-04-30","v":347},{"d":"2020-04-30","v":326},
{"d":"2020-05-01","v":336},{"d":"2020-05-01","v":316},{"d":"2020-05-04","v":344},{"d":"2020-05-04","v":328},{"d":"2020-05-05","v":333},{"d":"2020-05-05","v":322},{"d":"2020-05-06","v":341},{"d":"2020-05-06","v":324},{"d":"2020-05-07","v":336},{"d":"2020-05-07","v":314},{"d":"2020-05-08","v":345},{"d":"2020-05-08","v":326},{"d":"2020-05-11","v":340},{"d":"2020-05-11","v":318},{"d":"2020-05-12","v":343},{"d":"2020-05-12","v":326},{"d":"2020-05-13","v":336},{"d":"2020-05-13","v":316},{"d":"2020-05-14","v":347},{"d":"2020-05-14","v":328},{"d":"2020-05-15","v":341},{"d":"2020-05-15","v":322},{"d":"2020-05-18","v":335},{"d":"2020-05-18","v":311},{"d":"2020-05-19","v":345},{"d":"2020-05-19","v":326},{"d":"2020-05-20","v":338},{"d":"2020-05-20","v":318},{"d":"2020-05-21","v":348},{"d":"2020-05-21","v":330},{"d":"2020-05-22","v":343},{"d":"2020-05-22","v":324},{"d":"2020-05-25","v":336},{"d":"2020-05-25","v":313},{"d":"2020-05-26","v":346},{"d":"2020-05-26","v":326},{"d":"2020-05-27","v":341},{"d":"2020-05-27","v":320},{"d":"2020-05-28","v":335},{"d":"2020-05-28","v":311},{"d":"2020-05-29","v":345},{"d":"2020-05-29","v":326},
{"d":"2020-06-01","v":341},{"d":"2020-06-01","v":322},{"d":"2020-06-02","v":347},{"d":"2020-06-02","v":330},{"d":"2020-06-03","v":336},{"d":"2020-06-03","v":316},{"d":"2020-06-04","v":346},{"d":"2020-06-04","v":326},{"d":"2020-06-05","v":341},{"d":"2020-06-05","v":318},{"d":"2020-06-08","v":334},{"d":"2020-06-08","v":310},{"d":"2020-06-09","v":344},{"d":"2020-06-09","v":326},{"d":"2020-06-10","v":338},{"d":"2020-06-10","v":316},{"d":"2020-06-11","v":347},{"d":"2020-06-11","v":328},{"d":"2020-06-12","v":340},{"d":"2020-06-12","v":320},{"d":"2020-06-15","v":334},{"d":"2020-06-15","v":312},{"d":"2020-06-16","v":345},{"d":"2020-06-16","v":326},{"d":"2020-06-17","v":338},{"d":"2020-06-17","v":316},{"d":"2020-06-18","v":348},{"d":"2020-06-18","v":330},{"d":"2020-06-19","v":342},{"d":"2020-06-19","v":320},{"d":"2020-06-22","v":336},{"d":"2020-06-22","v":310},{"d":"2020-06-23","v":346},{"d":"2020-06-23","v":328},{"d":"2020-06-24","v":340},{"d":"2020-06-24","v":318},{"d":"2020-06-25","v":334},{"d":"2020-06-25","v":306},{"d":"2020-06-26","v":343},{"d":"2020-06-26","v":318},{"d":"2020-06-29","v":347},{"d":"2020-06-29","v":330},{"d":"2020-06-30","v":337},{"d":"2020-06-30","v":324},
{"d":"2020-12-01","v":352},{"d":"2020-12-01","v":317},{"d":"2020-12-02","v":358},{"d":"2020-12-02","v":342},{"d":"2020-12-03","v":353},{"d":"2020-12-03","v":336},{"d":"2020-12-04","v":348},{"d":"2020-12-04","v":330},{"d":"2020-12-07","v":362},{"d":"2020-12-07","v":318},{"d":"2020-12-08","v":352},{"d":"2020-12-08","v":336},{"d":"2020-12-10","v":358},{"d":"2020-12-10","v":326},{"d":"2020-12-11","v":340},{"d":"2020-12-11","v":312},{"d":"2020-12-14","v":357},{"d":"2020-12-14","v":327},{"d":"2020-12-15","v":352},{"d":"2020-12-15","v":338},{"d":"2020-12-17","v":360},{"d":"2020-12-17","v":329},{"d":"2020-12-18","v":349},{"d":"2020-12-18","v":315},{"d":"2020-12-21","v":356},{"d":"2020-12-21","v":341},{"d":"2020-12-22","v":361},{"d":"2020-12-22","v":337},{"d":"2020-12-28","v":352},{"d":"2020-12-28","v":325},{"d":"2020-12-29","v":360},{"d":"2020-12-29","v":344},{"d":"2020-12-30","v":354},{"d":"2020-12-30","v":340},
{"d":"2021-01-04","v":350},{"d":"2021-01-04","v":325},{"d":"2021-01-05","v":343},{"d":"2021-01-05","v":319},{"d":"2021-01-07","v":357},{"d":"2021-01-07","v":330},{"d":"2021-01-08","v":350},{"d":"2021-01-08","v":322},{"d":"2021-01-11","v":354},{"d":"2021-01-11","v":345},{"d":"2021-01-12","v":361},{"d":"2021-01-12","v":337},{"d":"2021-01-14","v":352},{"d":"2021-01-14","v":338},{"d":"2021-01-15","v":358},{"d":"2021-01-15","v":328},{"d":"2021-01-18","v":344},{"d":"2021-01-18","v":326},{"d":"2021-01-19","v":360},{"d":"2021-01-19","v":333},{"d":"2021-01-21","v":356},{"d":"2021-01-21","v":343},{"d":"2021-01-22","v":352},{"d":"2021-01-22","v":339},{"d":"2021-01-25","v":361},{"d":"2021-01-25","v":336},{"d":"2021-01-26","v":350},{"d":"2021-01-26","v":331},{"d":"2021-01-28","v":356},{"d":"2021-01-28","v":343},{"d":"2021-01-29","v":354},{"d":"2021-01-29","v":340},
{"d":"2021-02-01","v":360},{"d":"2021-02-01","v":336},{"d":"2021-02-02","v":353},{"d":"2021-02-02","v":338},{"d":"2021-02-04","v":355},{"d":"2021-02-04","v":342},{"d":"2021-02-05","v":343},{"d":"2021-02-05","v":324},{"d":"2021-02-08","v":352},{"d":"2021-02-08","v":333},{"d":"2021-02-09","v":359},{"d":"2021-02-09","v":344},{"d":"2021-02-11","v":361},{"d":"2021-02-11","v":336},{"d":"2021-02-12","v":349},{"d":"2021-02-12","v":329},{"d":"2021-02-15","v":356},{"d":"2021-02-15","v":341},{"d":"2021-02-16","v":343},{"d":"2021-02-16","v":322},{"d":"2021-02-18","v":360},{"d":"2021-02-18","v":335},{"d":"2021-02-19","v":349},{"d":"2021-02-19","v":328},{"d":"2021-02-22","v":358},{"d":"2021-02-22","v":338},{"d":"2021-02-23","v":351},{"d":"2021-02-23","v":334},{"d":"2021-02-25","v":358},{"d":"2021-02-25","v":343},{"d":"2021-02-26","v":350},{"d":"2021-02-26","v":337},
{"d":"2021-03-01","v":354},{"d":"2021-03-01","v":340},{"d":"2021-03-02","v":360},{"d":"2021-03-02","v":335},{"d":"2021-03-04","v":350},{"d":"2021-03-04","v":343},{"d":"2021-03-05","v":359},{"d":"2021-03-05","v":336},{"d":"2021-03-08","v":355},{"d":"2021-03-08","v":341},{"d":"2021-03-09","v":361},{"d":"2021-03-09","v":332},{"d":"2021-03-11","v":355},{"d":"2021-03-11","v":342},{"d":"2021-03-12","v":352},{"d":"2021-03-12","v":339},{"d":"2021-03-15","v":360},{"d":"2021-03-15","v":333},{"d":"2021-03-16","v":354},{"d":"2021-03-16","v":340},{"d":"2021-03-18","v":360},{"d":"2021-03-18","v":330},{"d":"2021-03-19","v":355},{"d":"2021-03-19","v":336},{"d":"2021-03-22","v":362},{"d":"2021-03-22","v":339},{"d":"2021-03-23","v":354},{"d":"2021-03-23","v":333},{"d":"2021-03-25","v":358},{"d":"2021-03-25","v":337},{"d":"2021-03-26","v":352},{"d":"2021-03-26","v":340},{"d":"2021-03-29","v":361},{"d":"2021-03-29","v":347},{"d":"2021-03-30","v":352},{"d":"2021-03-30","v":338}
]},
"encoding":{
"x":{"field":"d","type":"temporal","scale":{"type":"utc","domain":[{"year":2020,"month":3,"date":17,"hours":11,"utc":true},{"year":2021,"month":4,"date":15,"hours":4,"minutes":30,"utc":true}],"nice":false},
"axis":{"title":"Datum der Bestätigung","values":[{"year":2020,"month":4,"date":1,"utc":true},{"year":2020,"month":5,"date":1,"utc":true},{"year":2020,"month":6,"date":1,"utc":true},{"year":2020,"month":7,"date":1,"utc":true},{"year":2020,"month":8,"date":1,"utc":true},{"year":2020,"month":9,"date":1,"utc":true},{"year":2020,"month":10,"date":1,"utc":true},{"year":2020,"month":11,"date":1,"utc":true},{"year":2020,"month":12,"date":1,"utc":true},{"year":2021,"month":1,"date":1,"utc":true},{"year":2021,"month":2,"date":1,"utc":true},{"year":2021,"month":3,"date":1,"utc":true},{"year":2021,"month":4,"date":1,"utc":true}],
"labelExpr":"(utcmonth(datum.value)==0||datum.index==0)?[['Jan','Feb','Mrz','Apr','Mai','Jun','Jul','Aug','Sep','Okt','Nov','Dez'][utcmonth(datum.value)],utcFormat(datum.value,'%Y')]:['Jan','Feb','Mrz','Apr','Mai','Jun','Jul','Aug','Sep','Okt','Nov','Dez'][utcmonth(datum.value)]",
"domain":false,"grid":false,"ticks":true,"tickColor":"#000","tickSize":10,"tickWidth":1,"labelPadding":13,"labelLineHeight":20,"labelFlush":false,"labelOverlap":false,"titlePadding":10}},
"y":{"field":"v","type":"quantitative","scale":{"domain":[-14.4,363.5],"nice":false,"zero":false},
"axis":{"values":[0,50,100,150,200,250,300,350],"domain":false,"ticks":false,"tickSize":0,"labelPadding":20,"grid":true,"gridColor":"#d0d0d0","gridWidth":1,
"title":["Distanz zum","Staatsgebiet","(in km)"],"titleAngle":0,"titleAlign":"right","titleBaseline":"alphabetic","titleX":-20,"titleY":-48.5,"titleLineHeight":20.5}}
},
"layer":[
{"data":{"name":"A"},"mark":{"type":"rule","color":"#000","strokeWidth":1},"encoding":{"x2":{"field":"e"},"y":{"datum":-14.4}}},
{"data":{"name":"W"},"mark":{"type":"circle","size":110,"opacity":0.5,"clip":true},
"encoding":{"color":{"datum":"Wildschwein","scale":{"domain":["Hausschwein","Wildschwein"],"range":["#e8787a","#7cc5e7"]},
"legend":{"title":"Fälle","orient":"none","legendX":860,"legendY":-64,"direction":"horizontal","titleOrient":"left","titlePadding":15,"symbolType":"circle","symbolSize":75,"symbolOpacity":1,"labelOffset":8,"columnPadding":5,"encode":{"symbols":{"update":{"opacity":{"value":0.95}}}}}}}},
{"data":{"name":"H"},"mark":{"type":"circle","size":110,"opacity":0.5,"clip":true},
"encoding":{"color":{"datum":"Hausschwein","scale":{"domain":["Hausschwein","Wildschwein"],"range":["#e8787a","#7cc5e7"]}}}},
{"data":{"name":"L"},"mark":{"type":"line","interpolate":"step-after","strokeWidth":5.5,"strokeCap":"round"},
"encoding":{"stroke":{"datum":"Entfernung zum nächstgelegenen Fall","scale":{"range":["#ff8a14"]},
"legend":{"title":null,"orient":"none","legendX":836,"legendY":-40,"symbolType":"stroke","symbolSize":1100,"symbolStrokeWidth":5,"labelOffset":12,"labelLimit":400}}}}
]
}
